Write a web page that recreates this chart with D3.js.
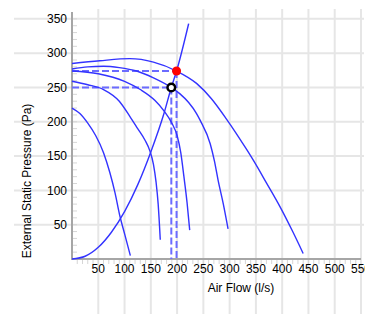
<!doctype html>
<html>
  <head>
    <title>Fan Curve</title>
    <style>
      * { margin: 0; padding: 0; }
      body { background: #fff; font-family: "Liberation Sans", Arial, sans-serif; }
      svg { display: block; }
      .grid line { stroke: #e6e6e6; stroke-width: 2px; }
      .minor line { stroke: #d6d6d6; stroke-width: 1px; }
      .axisline { stroke: #a6a6a6; stroke-width: 2px; }
      .fan { fill: none; stroke: #3333ff; stroke-width: 1.4px; }
      .guide { stroke: #6b6bff; stroke-width: 2px; stroke-dasharray: 7,3; }
      text { font-size: 12px; fill: #000; }
    </style>
    <script src="https://cdnjs.cloudflare.com/ajax/libs/d3/7.8.5/d3.min.js"></script>
  </head>
  <body>
    <script>
      // tick values
      var flowTicks = [50, 100, 150, 200, 250, 300, 350, 400, 450, 500, 550];
      var pressureTicks = [50, 100, 150, 200, 250, 300, 350];

      // fan curves, [air flow l/s, pressure Pa]
      var fanCurve1 = [[0, 285], [53, 289], [110, 292], [155, 287], [199, 274], [237, 256], [265, 234], [294, 204], [332, 160], [345, 144], [370, 111], [396, 76], [420, 40], [440, 8]];
      var fanCurve2 = [[0, 277], [30, 280], [60, 281], [90, 279], [123, 274], [155, 264], [189, 250], [205, 241], [222, 228], [237, 212], [244, 202], [263, 168], [271, 143], [278, 115], [288, 80], [297, 44]];
      var fanCurve3 = [[0, 274], [50, 270], [100, 259], [130, 247], [158, 231], [175, 216], [190, 198], [200, 180], [207, 155], [213, 120], [219, 82], [224, 42]];
      var fanCurve4 = [[0, 259], [30, 254], [60, 247], [90, 230], [110, 208], [125, 190], [139, 173], [148, 158], [155, 138], [160, 112], [164, 80], [168, 28]];
      var fanCurve5 = [[0, 220], [15, 212], [30, 198], [45, 180], [60, 155], [72, 126], [82, 96], [91, 63], [100, 37], [111, 5]];
      var systemCurve = [[0, 0], [25, 4], [50, 17], [75, 39], [100, 69], [125, 108], [150, 156], [175, 212], [189, 250], [199, 274], [222, 343]];

      // duty points
      var requiredPoint = [199, 274];
      var actualPoint = [189, 250];

      var width = 365, height = 314;
      var svg = d3.select("body").append("svg")
                  .attr("width", width)
                  .attr("height", height);

      var x = d3.scaleLinear().domain([0, 550]).range([72, 361]);
      var y = d3.scaleLinear().domain([0, 360]).range([259, 12]);

      // grid lines, they run past the plot on purpose
      var grid = svg.append("g").attr("class", "grid");
      grid.selectAll(".gx").data(flowTicks).enter().append("line")
          .attr("x1", function(d) { return x(d); }).attr("x2", function(d) { return x(d); })
          .attr("y1", 9).attr("y2", height);
      grid.selectAll(".gy").data(pressureTicks).enter().append("line")
          .attr("y1", function(d) { return y(d); }).attr("y2", function(d) { return y(d); })
          .attr("x1", 14).attr("x2", 364);

      // minor ticks every 10
      var minor = svg.append("g").attr("class", "minor");
      minor.selectAll(".my").data(d3.range(10, 360, 10)).enter().append("line")
           .attr("x1", x(0)).attr("x2", x(0) + 5)
           .attr("y1", function(d) { return y(d); }).attr("y2", function(d) { return y(d); });
      minor.selectAll(".mx").data(d3.range(10, 550, 10)).enter().append("line")
           .attr("y1", y(0)).attr("y2", y(0) + 5)
           .attr("x1", function(d) { return x(d); }).attr("x2", function(d) { return x(d); });

      svg.append("line").attr("class", "axisline")
         .attr("x1", x(0)).attr("x2", x(0)).attr("y1", y(360)).attr("y2", y(0) + 1);
      svg.append("line").attr("class", "axisline")
         .attr("x1", x(0) - 1).attr("x2", x(550)).attr("y1", y(0)).attr("y2", y(0));

      svg.selectAll(".ylab").data(pressureTicks).enter().append("text")
         .attr("x", 67).attr("y", function(d) { return y(d); })
         .attr("dy", "0.35em").attr("text-anchor", "end")
         .text(function(d) { return d; });
      svg.selectAll(".xlab").data(flowTicks).enter().append("text")
         .attr("x", function(d) { return x(d); }).attr("y", 272.5)
         .attr("text-anchor", "middle")
         .text(function(d) { return d; });

      svg.append("text")
         .attr("transform", "translate(31,181) rotate(-90)")
         .attr("text-anchor", "middle")
         .text("External Static Pressure (Pa)");
      svg.append("text")
         .attr("x", 241).attr("y", 291.5)
         .attr("text-anchor", "middle")
         .text("Air Flow (l/s)");

      // dashed guides to the duty points
      [requiredPoint, actualPoint].forEach(function(p) {
        svg.append("line").attr("class", "guide")
           .attr("x1", x(0)).attr("x2", x(p[0])).attr("y1", y(p[1])).attr("y2", y(p[1]));
        svg.append("line").attr("class", "guide")
           .attr("x1", x(p[0])).attr("x2", x(p[0])).attr("y1", y(p[1])).attr("y2", y(0));
      });

      var line = d3.line()
                   .x(function(d) { return x(d[0]); })
                   .y(function(d) { return y(d[1]); })
                   .curve(d3.curveMonotoneX);

      svg.selectAll(".fan")
         .data([fanCurve1, fanCurve2, fanCurve3, fanCurve4, fanCurve5, systemCurve])
         .enter().append("path")
         .attr("class", "fan")
         .attr("d", line);

      svg.append("circle")
         .attr("cx", x(requiredPoint[0])).attr("cy", y(requiredPoint[1]))
         .attr("r", 4.5).attr("fill", "#ff0000");
      svg.append("circle")
         .attr("cx", x(actualPoint[0])).attr("cy", y(actualPoint[1]))
         .attr("r", 3.8).attr("fill", "#fff")
         .attr("stroke", "#000").attr("stroke-width", 2.5);
    </script>
  </body>
</html>
